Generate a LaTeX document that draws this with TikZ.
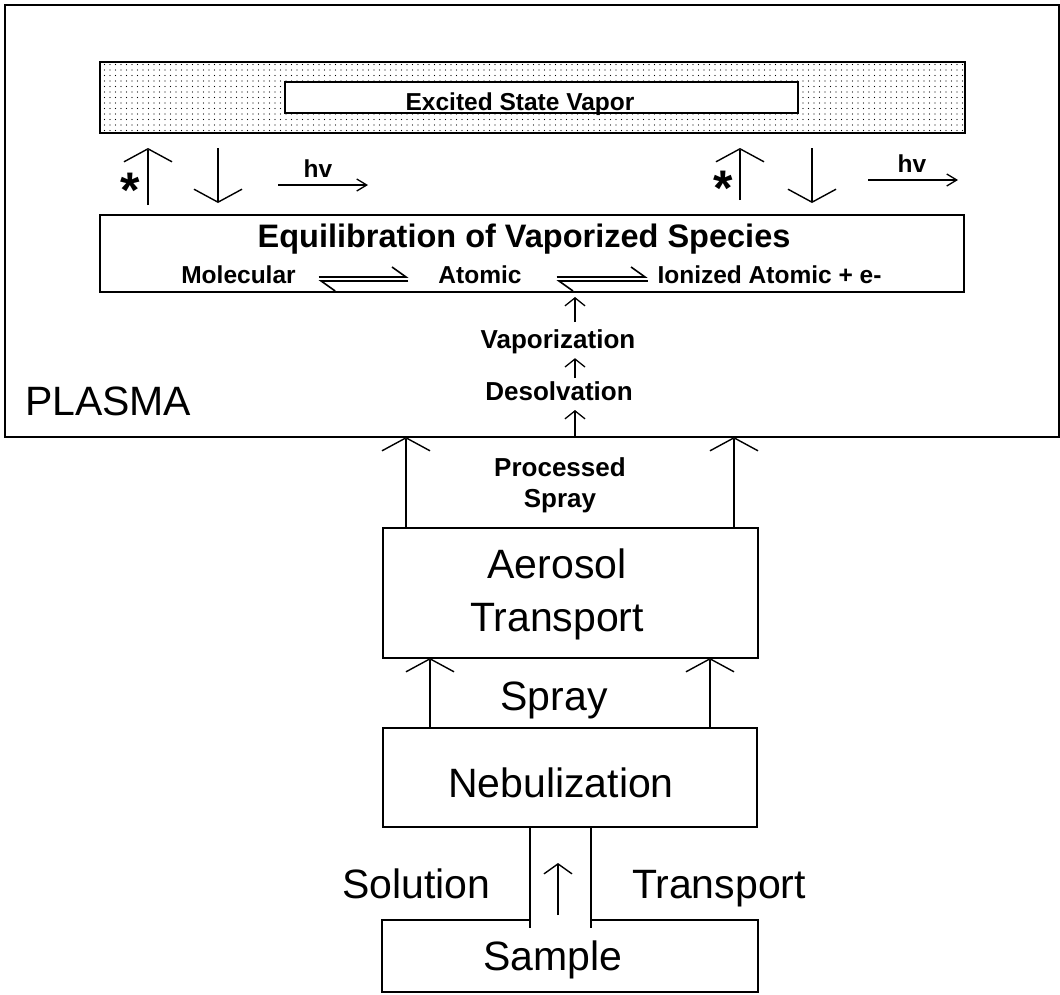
\documentclass[tikz,border=0pt]{standalone}
\usepackage{fontspec}
\setmainfont{Liberation Sans}
\usetikzlibrary{arrows.meta,patterns.meta}

\newcommand{\bigtxt}{\fontsize{41}{53}\selectfont}
\newcommand{\titletxt}{\fontsize{32.5}{38}\selectfont\bfseries}
\newcommand{\midtxt}{\fontsize{26}{31}\selectfont\bfseries}
\newcommand{\rowtxt}{\fontsize{24.5}{28}\selectfont\bfseries}
\newcommand{\startxt}{\fontsize{50}{50}\selectfont\bfseries}
\newcommand{\starglyph}{\raisebox{-0.44em}[0.30em][0.02em]{*}}

\begin{document}
\begin{tikzpicture}[x=1pt,y=1pt]
\tikzstyle{every node}+=[inner sep=0pt, outer sep=0pt]
\tikzstyle{box}=[draw, line width=2pt]
\tikzstyle{bigup}=[line width=1.4pt, -{Straight Barb[length=13pt, width=48pt]}]
\tikzstyle{midup}=[line width=1.4pt, -{Straight Barb[length=10pt, width=28pt]}]
\tikzstyle{smallup}=[line width=1.3pt, -{Straight Barb[length=8pt, width=20pt]}]
\tikzstyle{hvarrow}=[line width=1.3pt, -{Straight Barb[length=10pt, width=12pt]}]
\tikzstyle{harp}=[line width=1.6pt, -{Straight Barb[left, length=14pt, width=20pt]}]
\useasboundingbox (0,0) rectangle (1060,-994);

% plasma region
\node[box, minimum width=1054, minimum height=432] (plasma) at (532,-221) {};
\node[anchor=base west, font=\bigtxt] (plabel) at (25,-415) {PLASMA};

% excited state vapour
\node[box, pattern={Dots[distance=5.5pt, radius=0.65pt]}, minimum width=865, minimum height=71] (vapor) at (532.5,-97.5) {};
\node[box, fill=white, line width=1.6pt, minimum width=513, minimum height=31] (excited) at (541.5,-97.5) {};
\node[anchor=base, font=\rowtxt] (exclabel) at (520,-110) {Excited State Vapor};

% equilibration
\node[box, minimum width=864, minimum height=77] (eq) at (532,-253.5) {};
\node[anchor=base, font=\titletxt] (eqtitle) at (524,-247) {Equilibration of Vaporized Species};
\node[anchor=base, font=\rowtxt] (mol) at (238.5,-283) {Molecular};
\node[anchor=base, font=\rowtxt] (atom) at (480,-283) {Atomic};
\node[anchor=base, font=\rowtxt] (ion) at (769.5,-283) {Ionized Atomic + e-};
\draw[harp] ([xshift=23,yshift=6]mol.base east) -- ([xshift=-30,yshift=6]atom.base west);
\draw[harp] ([xshift=-30,yshift=2]atom.base west) -- ([xshift=23,yshift=2]mol.base east);
\draw[harp] ([xshift=35,yshift=6]atom.base east) -- ([xshift=-10,yshift=6]ion.base west);
\draw[harp] ([xshift=-10,yshift=2]ion.base west) -- ([xshift=35,yshift=2]atom.base east);

% excitation and emission
\draw[bigup, shorten <=10pt, shorten >=15pt] ([xshift=48]eq.north west) -- ([xshift=48]vapor.south west);
\draw[bigup, shorten <=15pt, shorten >=12pt] ([xshift=118]vapor.south west) -- ([xshift=118]eq.north west);
\draw[bigup, shorten <=15pt, shorten >=15pt] ([xshift=640]eq.north west) -- ([xshift=640]vapor.south west);
\draw[bigup, shorten <=15pt, shorten >=12pt] ([xshift=712]vapor.south west) -- ([xshift=712]eq.north west);
\node[font=\startxt] (star1) at (130,-178) {\starglyph};
\node[font=\startxt] (star2) at (723,-176) {\starglyph};
\node[anchor=base, font=\rowtxt] (hv1) at (318,-177) {hv};
\node[anchor=base, font=\rowtxt] (hv2) at (912,-172) {hv};
\draw[hvarrow] ([xshift=-40,yshift=-8]hv1.base) -- ([xshift=50,yshift=-8]hv1.base);
\draw[hvarrow] ([xshift=-44,yshift=-8]hv2.base) -- ([xshift=46,yshift=-8]hv2.base);

% desolvation / vaporization
\coordinate (mid) at ([xshift=43]plasma.south);
\node[anchor=base, font=\midtxt] (desolv) at (559,-400) {Desolvation};
\node[anchor=base, font=\midtxt] (vapz) at (558,-348) {Vaporization};
\draw[smallup] (mid) -- ++(0,27);
\draw[smallup] (desolv.north -| mid) ++(0,3) -- ++(0,20);
\draw[smallup, shorten >=5pt] (vapz.north -| mid) ++(0,7) -- (eq.south -| mid);

% aerosol transport
\node[anchor=center, font=\midtxt, align=center] (proc) at (560,-485) {Processed\\Spray};
\node[box, minimum width=375, minimum height=130] (aerosol) at (570.5,-593) {};
\node[anchor=center, font=\bigtxt, align=center] (aerotxt) at (557,-594) {Aerosol\\Transport};
\coordinate (a1) at ([xshift=23]aerosol.north west);
\coordinate (a2) at ([xshift=-24]aerosol.north east);
\draw[bigup] (a1) -- (a1 |- plasma.south);
\draw[bigup] (a2) -- (a2 |- plasma.south);

% nebulization
\node[box, minimum width=374, minimum height=99] (neb) at (570,-777.5) {};
\node[anchor=base, font=\bigtxt] (nebtxt) at (561,-797) {Nebulization};
\node[anchor=base, font=\bigtxt] (spray) at (554,-710) {Spray};
\coordinate (s1) at ([xshift=47]neb.north west);
\coordinate (s2) at ([xshift=-47]neb.north east);
\draw[bigup] (s1) -- (s1 |- aerosol.south);
\draw[bigup] (s2) -- (s2 |- aerosol.south);

% sample and solution transport
\node[minimum width=376, minimum height=72] (sample) at (570,-956) {};
\node[anchor=base, font=\bigtxt] (samptxt) at (553,-970) {Sample};
\node[anchor=base west, font=\bigtxt] (soln) at (342,-898) {Solution};
\node[anchor=base west, font=\bigtxt] (trans) at (632,-898) {Transport};
\coordinate (chl) at ([xshift=-40]neb.south);
\coordinate (chr) at ([xshift=21]neb.south);
\draw[line width=2pt] (chl |- sample.north) -- (sample.north west) -- (sample.south west) -- (sample.south east) -- (sample.north east) -- (chr |- sample.north);
\draw[line width=1.6pt] (chl) -- (chl |- sample.north) -- ++(0,-8);
\draw[line width=1.6pt] (chr) -- (chr |- sample.north) -- ++(0,-8);
\draw[midup] ([xshift=-12]sample.north) ++(0,5) -- ([xshift=-12,yshift=-36]neb.south);
\end{tikzpicture}
\end{document}
